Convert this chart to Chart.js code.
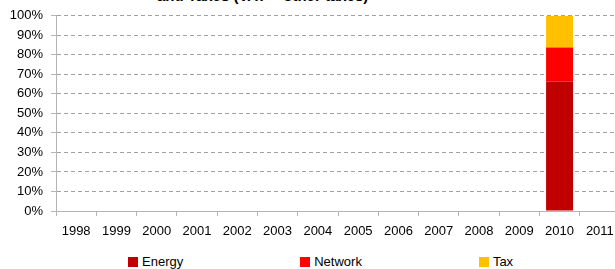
<!DOCTYPE html>
<html>
<head>
<meta charset="utf-8">
<script src="https://cdn.jsdelivr.net/npm/chart.js@4"></script>
<style>
  html, body { margin: 0; padding: 0; background: #fff; overflow: hidden; }
  #wrap { position: relative; width: 615px; height: 269px; overflow: hidden; }
  #title { position: absolute; left: 157px; top: -12px; font: bold 15px "Liberation Sans", Arial, sans-serif; line-height: 15px; color: #000; white-space: nowrap; }
  #chart { position: absolute; left: 0; top: 0; }
  #legend { position: absolute; left: 128px; top: 255px; display: flex; gap: 117px; font: 13px "Liberation Sans", Arial, sans-serif; line-height: 14px; color: #000; }
  #legend span.box { display: inline-block; width: 10px; height: 10px; margin-right: 4px; vertical-align: -1px; }
</style>
</head>
<body>
<div id="wrap">
  <div id="title">and Taxes (VAT + other taxes)</div>
  <canvas id="chart" width="625" height="246"></canvas>
  <div id="legend"></div>
</div>
<script>
// سنوات المحور الأفقي
const years = ['1998', '1999', '2000', '2001', '2002', '2003', '2004',
               '2005', '2006', '2007', '2008', '2009', '2010', '2011'];

// حصة كل مكوّن من السعر (%) – البيانات موجودة لسنة 2010 فقط
const energy  = [null, null, null, null, null, null, null, null, null, null, null, null, 66.4, null];
const network = [null, null, null, null, null, null, null, null, null, null, null, null, 17.3, null];
const tax     = [null, null, null, null, null, null, null, null, null, null, null, null, 16.3, null];

const yTicks = [0, 10, 20, 30, 40, 50, 60, 70, 80, 90, 100];

const seriesNames = ['Energy', 'Network', 'Tax'];
const seriesColors = ['#C00000', '#FF0000', '#FFC000'];

const font = { family: '"Liberation Sans", Arial, sans-serif', size: 13 };

const chart = new Chart(document.getElementById('chart'), {
    type: 'bar',
    data: {
        labels: years,
        datasets: [energy, network, tax].map((d, i) => ({
            label: seriesNames[i],
            data: d,
            backgroundColor: seriesColors[i],
            borderWidth: 0,
            categoryPercentage: 0.67,
            barPercentage: 1
        }))
    },
    options: {
        responsive: false,
        animation: false,
        layout: { padding: { top: 14, right: 5, bottom: 0, left: 0 } },
        plugins: {
            legend: { display: false },
            title: { display: false },
            tooltip: { enabled: false }
        },
        scales: {
            x: {
                stacked: true,
                afterFit: s => { s.height = 35; },
                grid: { drawOnChartArea: false, drawTicks: true, tickLength: 5, color: '#b4b4b4', offset: true },
                border: { color: '#b4b4b4' },
                ticks: { color: '#000', font: font, padding: 8, maxRotation: 0, autoSkip: false }
            },
            y: {
                stacked: true,
                min: 0,
                max: 100,
                afterBuildTicks: s => { s.ticks = yTicks.map(v => ({ value: v })); },
                afterFit: s => { s.width = 56; },
                grid: {
                    tickLength: 5,
                    color: ctx => ctx.tick && ctx.tick.value === 0 ? 'rgba(0,0,0,0)' : '#a0a0a0',
                    tickColor: '#b4b4b4'
                },
                border: { color: '#b4b4b4', dash: [4, 3] },
                ticks: { color: '#000', font: font, padding: 8, callback: v => v + '%' }
            }
        }
    }
});

// وسيلة الإيضاح
const legend = document.getElementById('legend');
seriesNames.forEach((name, i) => {
    const item = document.createElement('div');
    item.innerHTML = '<span class="box" style="background:' + seriesColors[i] + '"></span>' + name;
    legend.appendChild(item);
});
</script>
</body>
</html>
